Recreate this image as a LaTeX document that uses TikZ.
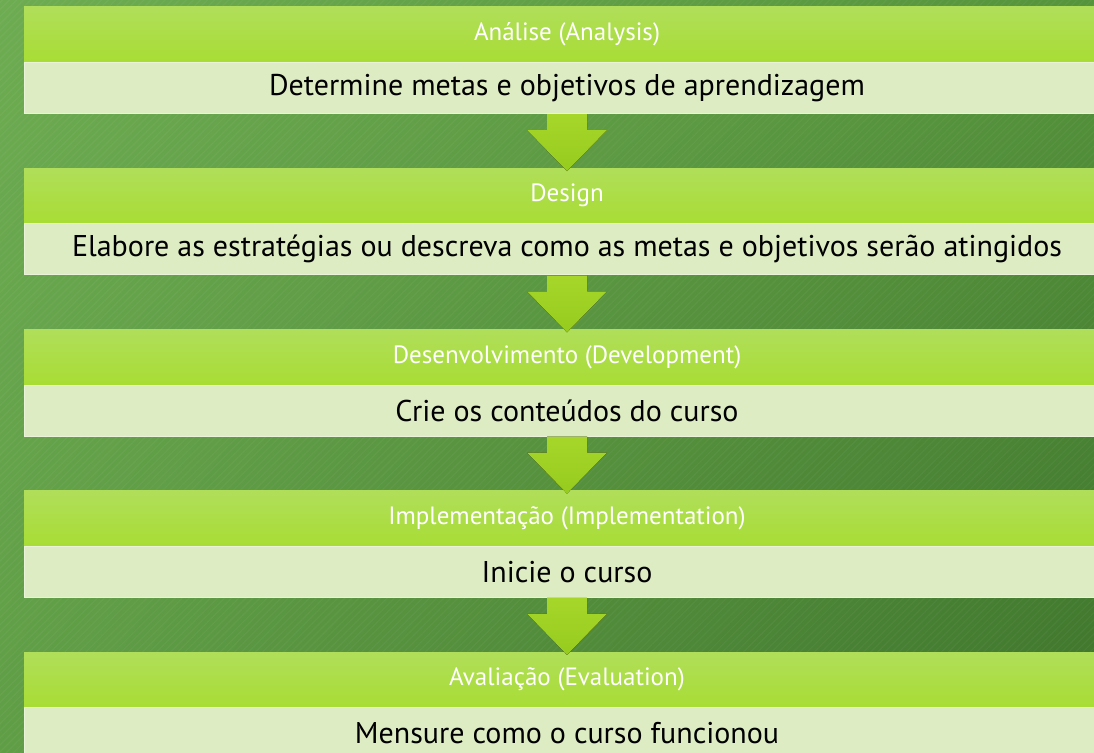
\documentclass[tikz,border=0pt]{standalone}
\usepackage{fontspec}
\setmainfont{PT Sans}
\usetikzlibrary{positioning,calc,patterns.meta,shadings}

\definecolor{fundoA}{RGB}{110,172,82}
\definecolor{fundoB}{RGB}{86,148,60}
\definecolor{fundoC}{RGB}{96,158,70}
\definecolor{fundoD}{RGB}{62,116,44}
\definecolor{verdetopo}{RGB}{176,222,90}
\definecolor{verdebase}{RGB}{168,221,52}
\definecolor{verdeclaro}{RGB}{221,236,194}
\definecolor{verdeborda}{RGB}{234,243,218}
\definecolor{setatopo}{RGB}{166,214,42}
\definecolor{setabase}{RGB}{150,204,30}

\tikzset{
    cabecalho/.style={minimum width=1086pt, minimum height=55pt, inner sep=0pt,
        top color=verdetopo, bottom color=verdebase, text=white,
        font=\fontsize{25}{27}\selectfont},
    conteudo/.style={minimum width=1086pt, minimum height=51pt, inner sep=0pt,
        fill=verdeclaro, draw=verdeborda, line width=0.8pt,
        font=\fontsize{30}{32}\selectfont},
    seta/.style={top color=setatopo, bottom color=setabase}
}

\begin{document}
\begin{tikzpicture}[x=1pt,y=-1pt]
    \useasboundingbox (0,0) rectangle (1094,752);
    \clip (0,0) rectangle (1094,752);

    % Fundo
    \shade[upper left=fundoA, upper right=fundoB, lower left=fundoC, lower right=fundoD]
        (0,0) rectangle (1094,752);
    \fill[pattern={Lines[angle=45,distance=5pt,line width=1.2pt]}, pattern color=white, opacity=0.04]
        (0,0) rectangle (1094,752);

    % Etapas
    \foreach \i/\titulo/\texto in {
        1/{Análise (Analysis)}/{Determine metas e objetivos de aprendizagem},
        2/{Design}/{Elabore as estratégias ou descreva como as metas e objetivos serão atingidos},
        3/{Desenvolvimento (Development)}/{Crie os conteúdos do curso},
        4/{Implementação (Implementation)}/{Inicie o curso},
        5/{Avaliação (Evaluation)}/{Mensure como o curso funcionou}} {
        \node[cabecalho] (h\i) at (567,{34.5+(\i-1)*161.25}) {\titulo};
        \node[conteudo, below=0pt of h\i] (c\i) {\texto};
    }

    % Setas
    \foreach \i [evaluate=\i as \j using int(\i+1)] in {1,...,4}
        \fill[seta] ($(c\i.south)+(-20,0)$) -- ($(c\i.south)+(-20,16)$) -- ($(c\i.south)+(-40,16)$)
            -- ($(h\j.north)+(0,3)$) -- ($(c\i.south)+(40,16)$) -- ($(c\i.south)+(20,16)$)
            -- ($(c\i.south)+(20,0)$) -- cycle;
\end{tikzpicture}
\end{document}
